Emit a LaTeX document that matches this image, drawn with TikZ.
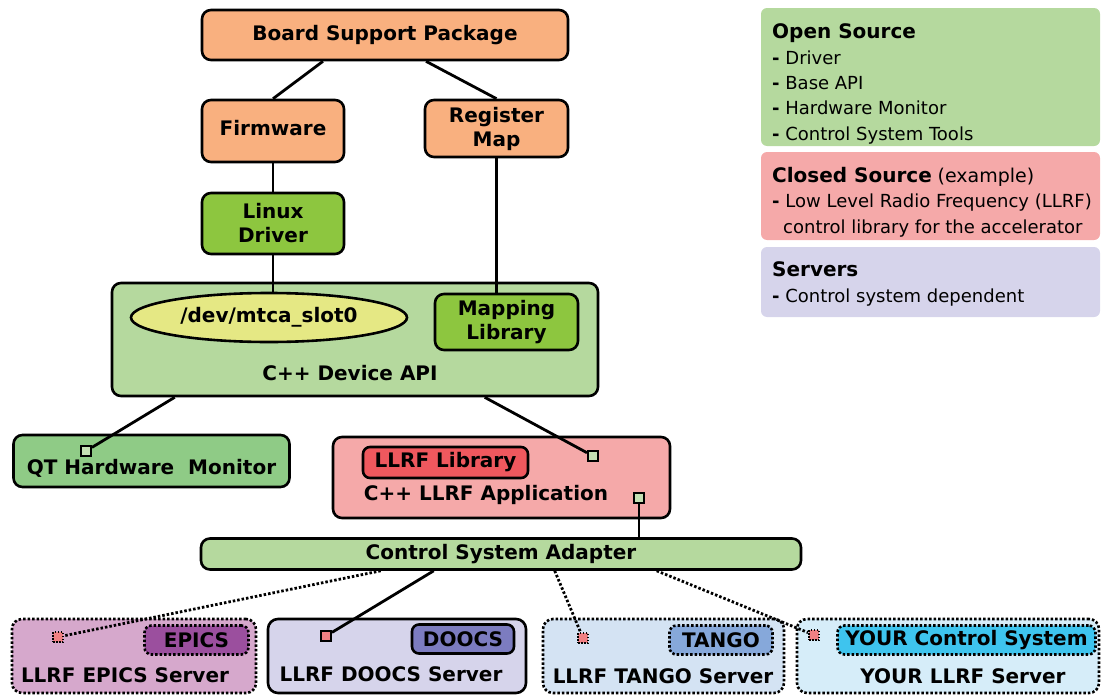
\documentclass[tikz,border=0pt]{standalone}
\usepackage{fontspec}
\setmainfont{DejaVu Sans}
\usetikzlibrary{shapes.geometric,calc}
\definecolor{bsporange}{RGB}{249,176,127}
\definecolor{drvgreen}{RGB}{141,198,63}
\definecolor{apigreen}{RGB}{181,217,158}
\definecolor{devyellow}{RGB}{229,232,132}
\definecolor{qtgreen}{RGB}{143,203,134}
\definecolor{portgreen}{RGB}{197,224,180}
\definecolor{apppink}{RGB}{245,169,169}
\definecolor{libred}{RGB}{239,88,94}
\definecolor{portpink}{RGB}{240,128,131}
\definecolor{epicsbg}{RGB}{214,168,204}
\definecolor{epicstag}{RGB}{155,79,158}
\definecolor{doocsbg}{RGB}{214,212,235}
\definecolor{doocstag}{RGB}{124,124,192}
\definecolor{tangobg}{RGB}{212,227,243}
\definecolor{tangotag}{RGB}{134,168,218}
\definecolor{yourbg}{RGB}{214,237,249}
\definecolor{yourtag}{RGB}{62,196,238}
\tikzset{
    block/.style={draw, line width=2.6pt, rounded corners=9pt, inner sep=0pt,
        align=center, font=\fontsize{20}{24}\selectfont\bfseries},
    plain/.style={inner sep=0pt, font=\fontsize{20}{24}\selectfont\bfseries},
    tagbox/.style={draw, line width=2.6pt, rounded corners=7pt, inner sep=0pt,
        minimum height=29pt, font=\fontsize{20}{24}\selectfont\bfseries},
    server/.style={draw, line width=2.6pt, rounded corners=10pt, minimum height=74pt},
    dotborder/.style={dash pattern=on 2.5pt off 2pt},
    port/.style={draw, line width=2pt, minimum size=10pt, inner sep=0pt},
    dotport/.style={port, fill=portpink, dash pattern=on 1.5pt off 1.5pt},
    link/.style={line width=2.8pt},
    optlink/.style={line width=2.8pt, dash pattern=on 2.5pt off 2pt},
    legendbox/.style={rounded corners=6pt, minimum width=339pt},
    legendtext/.style={anchor=west, align=left, inner sep=0pt,
        font=\fontsize{18}{25.3}\selectfont},
}
\newcommand{\lghead}[1]{{\fontsize{20}{25.3}\selectfont\bfseries #1}}

\begin{document}
\begin{tikzpicture}[x=1pt,y=-1pt]
    \useasboundingbox (0,0) rectangle (1101,696);

    % legend on the right
    \node[legendbox, fill=apigreen, minimum height=138pt] (lgopen) at (930.5,77) {};
    \node[legendtext] (lgopentxt) at (772,84) {
        \lghead{Open Source}\\
        \textbf{-} Driver\\
        \textbf{-} Base API\\
        \textbf{-} Hardware Monitor\\
        \textbf{-} Control System Tools};
    \node[legendbox, fill=apppink, minimum height=88pt] (lgclosed) at (930.5,196) {};
    \node[legendtext] (lgclosedtxt) at (772,202) {
        \lghead{Closed Source} {\fontsize{19}{25.3}\selectfont(example)}\\
        \textbf{-} Low Level Radio Frequency (LLRF)\\
        \hspace{11pt}control library for the accelerator};
    \node[legendbox, fill=doocsbg, minimum height=70pt] (lgserv) at (930.5,282) {};
    \node[legendtext] (lgservtxt) at (772,284) {
        \lghead{Servers}\\
        \textbf{-} Control system dependent};

    % hardware side
    \node[block, fill=bsporange, minimum width=366pt, minimum height=50pt] (bsp) at (385,35) {Board Support Package};
    \node[block, fill=bsporange, minimum width=142pt, minimum height=62pt] (fw) at (273,131) {\raisebox{6pt}{Firmware}};
    \node[block, fill=bsporange, minimum width=143pt, minimum height=57pt] (regmap) at (496.5,128.5) {Register\\Map};
    \node[block, fill=drvgreen, minimum width=142pt, minimum height=61pt] (drv) at (273,223.5) {Linux\\Driver};

    % device access library
    \node[block, fill=apigreen, minimum width=486pt, minimum height=113pt] (api) at (355,339.5) {};
    \node[ellipse, draw, line width=2.6pt, fill=devyellow, inner sep=0pt,
        minimum width=276pt, minimum height=49pt,
        font=\fontsize{20}{24}\selectfont\bfseries] (dev) at (269,317.5) {/dev/mtca\_slot0};
    \node[block, fill=drvgreen, minimum width=143pt, minimum height=56pt] (maplib) at (506.5,322) {Mapping\\Library};
    \node[plain] (apilbl) at (350,373) {C++ Device API};

    % applications
    \node[block, fill=qtgreen, minimum width=276pt, minimum height=52pt] (qt) at (151.5,461) {};
    \node[plain] (qtlbl) at (151.5,468) {QT Hardware\ \ Monitor};
    \node[port, fill=portgreen] (qtport) at (86,451) {};

    \node[block, fill=apppink, minimum width=337pt, minimum height=81pt] (app) at (501.5,477.5) {};
    \node[tagbox, fill=libred, minimum width=165pt, minimum height=31pt] (lib) at (445.5,462.5) {LLRF Library};
    \node[plain] (applbl) at (486,495) {C++ LLRF Application};
    \node[port, fill=portgreen] (appin) at (593,456) {};
    \node[port, fill=portgreen] (appout) at (639,498) {};

    \node[block, fill=apigreen, minimum width=600pt, minimum height=31pt] (csa) at (501,554) {Control System Adapter};

    % control system servers
    \node[server, dotborder, fill=epicsbg, minimum width=244pt] (epics) at (134,656) {};
    \node[tagbox, dotborder, fill=epicstag, minimum width=104pt] (epicstag) at (196.5,640) {EPICS};
    \node[dotport] (epicsport) at (58,637) {};
    \node[plain] (epicslbl) at (125,675) {LLRF EPICS Server};

    \node[server, fill=doocsbg, minimum width=258pt] (doocs) at (397,656) {};
    \node[tagbox, fill=doocstag, minimum width=102pt] (doocstag) at (463,639) {DOOCS};
    \node[port, fill=portpink] (doocsport) at (326,636) {};
    \node[plain] (doocslbl) at (391,674) {LLRF DOOCS Server};

    \node[server, dotborder, fill=tangobg, minimum width=241pt] (tango) at (663.5,656) {};
    \node[tagbox, dotborder, fill=tangotag, minimum width=103pt] (tangotag) at (721,640) {TANGO};
    \node[dotport] (tangoport) at (583,638) {};
    \node[plain] (tangolbl) at (663,676) {LLRF TANGO Server};

    \node[server, dotborder, fill=yourbg, minimum width=302pt] (your) at (948,656) {};
    \node[tagbox, dotborder, fill=yourtag, minimum width=258pt] (yourtag) at (966.5,640) {YOUR Control System};
    \node[dotport] (yourport) at (814,635) {};
    \node[plain] (yourlbl) at (963,676) {YOUR LLRF Server};

    % connections
    \draw[link] ($(bsp.south)+(-62,0)$) -- (fw.north);
    \draw[link] ($(bsp.south)+(41,0)$) -- (regmap.north);
    \draw[link] (fw.south) -- (drv.north);
    \draw[link] (drv.south) -- (drv.south |- dev.north);
    \draw[link] (regmap.south) -- (regmap.south |- maplib.north);
    \draw[link] ($(api.south west)+(64,0)$) -- (qtport);
    \draw[link] ($(api.south west)+(374,0)$) -- (appin);
    \draw[link] (appout) -- (appout |- csa.north);
    \draw[link] ($(csa.south west)+(234,0)$) -- (doocsport);
    \draw[optlink] ($(csa.south west)+(181,0)$) -- (epicsport);
    \draw[optlink] ($(csa.south west)+(355,0)$) -- (tangoport);
    \draw[optlink] ($(csa.south west)+(457,0)$) -- (yourport);
\end{tikzpicture}
\end{document}
